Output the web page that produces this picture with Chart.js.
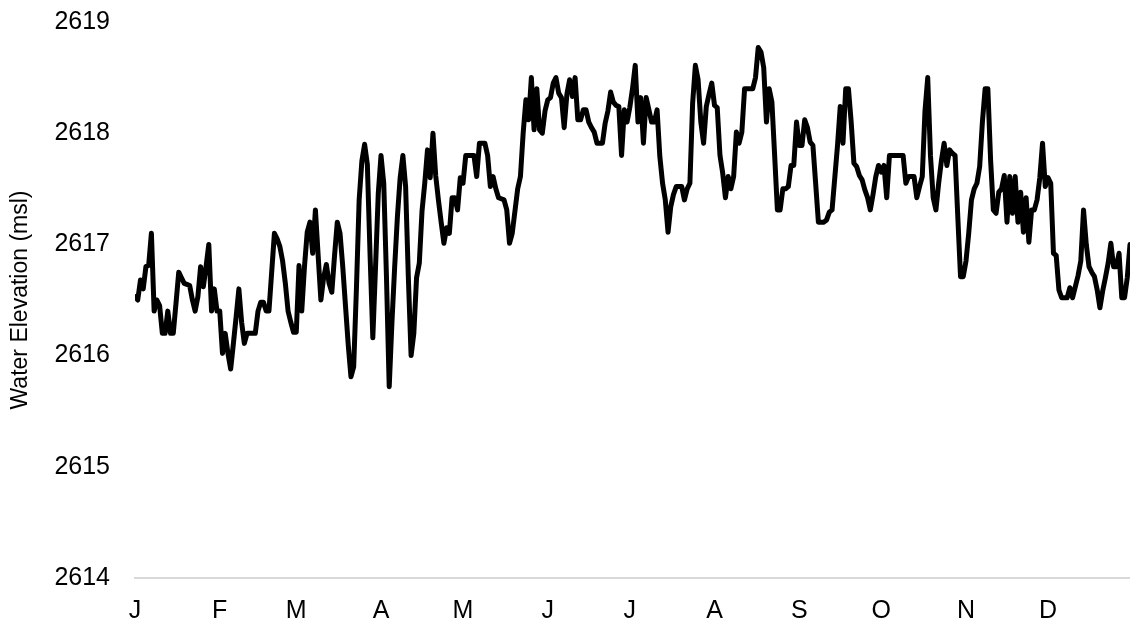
<!DOCTYPE html>
<html>
<head>
<meta charset="utf-8">
<script src="https://cdn.jsdelivr.net/npm/chart.js@4/dist/chart.umd.min.js"></script>
<style>
  html, body { margin: 0; padding: 0; background: #ffffff; }
  #wrap { width: 1130px; height: 629px; }
</style>
</head>
<body>
<div id="wrap"><canvas id="c" width="1130" height="629"></canvas></div>
<script>
// Month tick labels and the day-of-year on which each month starts
const monthLabels = ['J','F','M','A','M','J','J','A','S','O','N','D'];
const monthStartDays = [0,31,59,90,120,151,181,212,243,273,304,334];

// Daily water elevation (msl), one value per day of the year
const janElev = [2616.53,2616.50,2616.68,2616.60,2616.80,2616.81,2617.10,2616.40,2616.50,2616.45,
  2616.20,2616.20,2616.40,2616.20,2616.20,2616.47,2616.75,2616.70,2616.65,2616.64,
  2616.63,2616.50,2616.40,2616.53,2616.80,2616.62,2616.80,2617.00,2616.40,2616.60,2616.40];
const febElev = [2616.40,2616.02,2616.20,2616.02,2615.88,2616.11,2616.35,2616.60,2616.30,2616.11,
  2616.20,2616.20,2616.20,2616.20,2616.40,2616.48,2616.48,2616.40,2616.40,2616.75,
  2617.10,2617.05,2616.98,2616.85,2616.65,2616.40,2616.30,2616.21];
const marElev = [2616.21,2616.81,2616.40,2616.80,2617.11,2617.20,2616.92,2617.31,2616.90,2616.50,
  2616.70,2616.82,2616.65,2616.57,2616.90,2617.20,2617.10,2616.80,2616.45,2616.10,
  2615.81,2615.90,2616.60,2617.40,2617.75,2617.90,2617.72,2616.90,2616.16,2616.80,2617.46];
const aprElev = [2617.80,2617.55,2616.70,2615.72,2616.30,2616.80,2617.25,2617.60,2617.80,2617.52,
  2616.70,2616.00,2616.20,2616.70,2616.83,2617.30,2617.55,2617.85,2617.60,2618.00,
  2617.62,2617.40,2617.20,2617.01,2617.15,2617.10,2617.42,2617.42,2617.31,2617.60];
const mayElev = [2617.55,2617.80,2617.80,2617.80,2617.80,2617.61,2617.91,2617.91,2617.91,2617.80,
  2617.52,2617.61,2617.50,2617.42,2617.41,2617.40,2617.31,2617.01,2617.10,2617.30,
  2617.50,2617.61,2618.00,2618.30,2618.12,2618.50,2618.03,2618.40,2618.03,2618.00,2618.20];
const junElev = [2618.30,2618.32,2618.45,2618.50,2618.36,2618.32,2618.05,2618.35,2618.48,2618.33,
  2618.50,2618.12,2618.12,2618.21,2618.21,2618.10,2618.05,2618.01,2617.91,2617.91,
  2617.91,2618.09,2618.20,2618.37,2618.28,2618.25,2618.24,2617.80,2618.21,2618.10];
const julElev = [2618.23,2618.40,2618.61,2618.10,2618.32,2617.91,2618.32,2618.21,2618.10,2618.10,
  2618.21,2617.79,2617.55,2617.40,2617.11,2617.34,2617.45,2617.52,2617.52,2617.52,
  2617.40,2617.50,2617.55,2618.27,2618.61,2618.48,2618.10,2617.91,2618.24,2618.35,2618.45];
const augElev = [2618.25,2618.23,2617.80,2617.64,2617.42,2617.61,2617.50,2617.61,2618.01,2617.91,
  2618.01,2618.40,2618.40,2618.40,2618.40,2618.50,2618.77,2618.73,2618.59,2618.10,
  2618.40,2618.28,2617.80,2617.31,2617.31,2617.50,2617.50,2617.52,2617.71,2617.71,2618.10];
const sepElev = [2617.89,2617.89,2618.12,2618.05,2617.92,2617.89,2617.55,2617.20,2617.20,2617.20,
  2617.22,2617.29,2617.31,2617.60,2617.89,2618.24,2617.91,2618.40,2618.40,2618.10,
  2617.73,2617.70,2617.62,2617.58,2617.49,2617.42,2617.31,2617.45,2617.61,2617.71];
const octElev = [2617.65,2617.71,2617.42,2617.80,2617.80,2617.80,2617.80,2617.80,2617.80,2617.55,
  2617.61,2617.61,2617.61,2617.42,2617.52,2617.61,2618.20,2618.50,2617.80,2617.42,
  2617.31,2617.55,2617.75,2617.91,2617.71,2617.85,2617.82,2617.80,2617.25,2616.71,2616.71];
const novElev = [2616.85,2617.10,2617.40,2617.50,2617.55,2617.70,2618.10,2618.40,2618.40,2617.76,
  2617.31,2617.28,2617.47,2617.50,2617.62,2617.20,2617.61,2617.28,2617.61,2617.20,
  2617.47,2617.11,2617.42,2617.02,2617.31,2617.31,2617.40,2617.60,2617.91,2617.52];
const decElev = [2617.60,2617.55,2616.92,2616.90,2616.59,2616.52,2616.52,2616.52,2616.61,2616.52,
  2616.62,2616.72,2616.85,2617.31,2617.00,2616.80,2616.75,2616.71,2616.59,2616.43,
  2616.58,2616.70,2616.83,2617.01,2616.80,2616.80,2616.92,2616.52,2616.52,2616.70,2617.00];

const elevations = [].concat(janElev, febElev, marElev, aprElev, mayElev, junElev,
  julElev, augElev, sepElev, octElev, novElev, decElev);
const points = elevations.map((v, i) => ({ x: i, y: v }));

const FONT = "'Liberation Sans', Arial, sans-serif";

new Chart(document.getElementById('c'), {
  type: 'line',
  data: {
    datasets: [{
      data: points,
      borderColor: '#000000',
      borderWidth: 5,
      pointRadius: 0,
      tension: 0,
      fill: false,
      borderJoinStyle: 'round',
      borderCapStyle: 'round'
    }]
  },
  options: {
    responsive: false,
    animation: false,
    devicePixelRatio: 1,
    layout: { padding: { top: 22, right: 0, bottom: 0, left: 0 } },
    plugins: { legend: { display: false }, tooltip: { enabled: false } },
    scales: {
      x: {
        type: 'linear',
        min: 0,
        max: elevations.length - 1,
        grid: { display: false, drawTicks: false },
        border: { display: true, color: '#d9d9d9', width: 2 },
        afterBuildTicks: (scale) => {
          scale.ticks = monthStartDays.map(d => ({ value: d }));
        },
        afterFit: (scale) => {
          scale.height = 51;
          scale.paddingLeft = 0;
          scale.paddingRight = 0;
        },
        ticks: {
          autoSkip: false,
          maxRotation: 0,
          padding: 18,
          color: '#000000',
          font: { family: FONT, size: 25 },
          callback: (value) => {
            const k = monthStartDays.indexOf(value);
            return k >= 0 ? monthLabels[k] : '';
          }
        }
      },
      y: {
        min: 2614,
        max: 2619,
        grid: { display: false, drawTicks: false },
        border: { display: false },
        afterFit: (scale) => {
          scale.width = 135;
          scale.paddingTop = 0;
          scale.paddingBottom = 0;
        },
        ticks: {
          stepSize: 1,
          padding: 25,
          color: '#000000',
          font: { family: FONT, size: 25 },
          callback: (value) => String(value)
        },
        title: {
          display: true,
          text: 'Water Elevation (msl)',
          color: '#000000',
          font: { family: FONT, size: 23 },
          padding: { top: 7, bottom: 0 }
        }
      }
    }
  }
});
</script>
</body>
</html>
